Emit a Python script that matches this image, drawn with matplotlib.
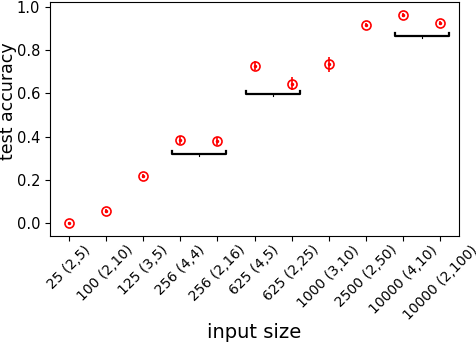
import matplotlib
matplotlib.use("Agg")
import matplotlib.pyplot as plt
import numpy as np

labels = ["25 (2,5)", "100 (2,10)", "125 (3,5)", "256 (4,4)", "256 (2,16)", "625 (4,5)",
          "625 (2,25)", "1000 (3,10)", "2500 (2,50)", "10000 (4,10)", "10000 (2,100)"]
acc = [0.0, 0.055, 0.218, 0.385, 0.38, 0.728, 0.645, 0.735, 0.918, 0.963, 0.925]
err = [0.006, 0.008, 0.01, 0.02, 0.02, 0.022, 0.03, 0.035, 0.008, 0.008, 0.01]
# brackets: (first index, second index, level)
bracket_pairs = [(3, 4), (5, 6), (9, 10)]
bracket_levels = [0.32, 0.595, 0.865]

fig = plt.figure(figsize=(4.76, 3.42), dpi=100)
ax = fig.add_axes([50/476, 1-236/342, 409/476, 234/342])
x = np.arange(len(labels))
ax.errorbar(x, acc, yerr=err, fmt='o', color='red', mfc='none', ms=6.5, mew=1.2,
            elinewidth=1.2, capsize=0)
ax.plot(x, acc, '.', color='red', ms=3)
for (i, j), lv in zip(bracket_pairs, bracket_levels):
    a, b = i - 0.23, j + 0.23
    ax.plot([a, a, b, b], [lv + 0.014, lv, lv, lv + 0.014], color='black', lw=1.6)
    m = (i + j) / 2
    ax.plot([m, m], [lv, lv - 0.008], color='black', lw=0.8)
ax.set_xticks(x)
ax.set_xticklabels(labels, rotation=45, ha='center', fontsize=10)
ax.tick_params(axis='x', pad=1.5)
ax.set_yticks([0.0, 0.2, 0.4, 0.6, 0.8, 1.0])
ax.tick_params(axis='y', labelsize=10.5)
ax.set_xlim(-0.5, 10.5)
ax.set_ylim(-0.06, 1.023)
ax.set_xlabel("input size", fontsize=14)
ax.set_ylabel("test accuracy", fontsize=12.5)
ax.xaxis.set_label_coords(0.5, -0.37)
ax.yaxis.set_label_coords(-0.08, 0.577)
fig.savefig("out.png", dpi=100)
